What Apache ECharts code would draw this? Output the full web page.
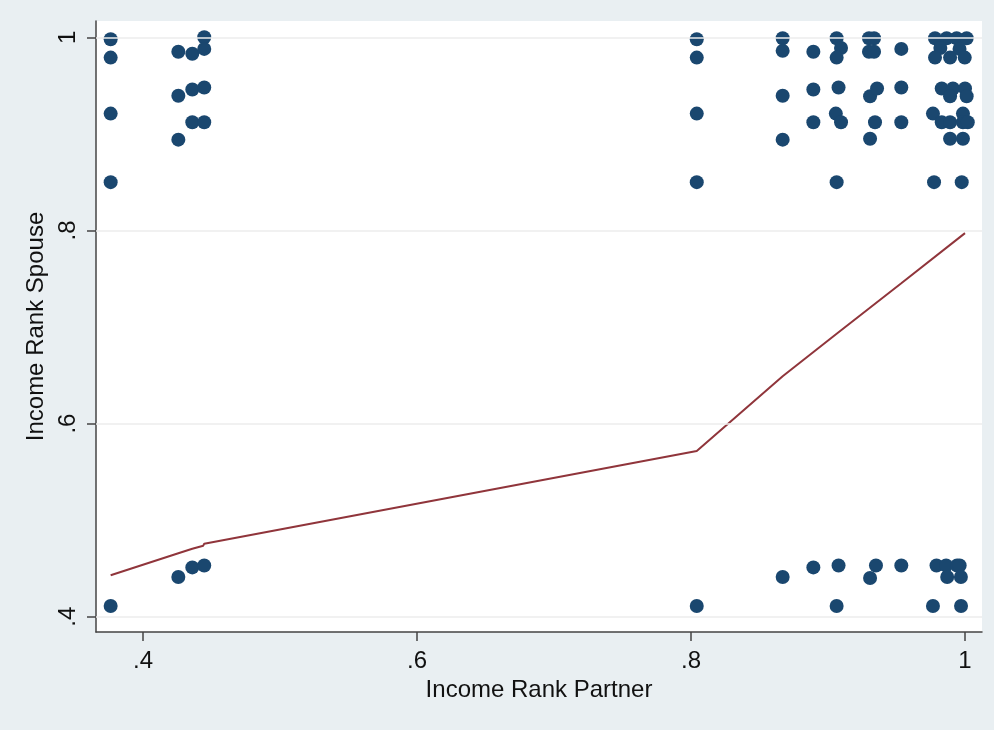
<!DOCTYPE html>
<html>
<head>
<meta charset="utf-8">
<script src="https://cdn.jsdelivr.net/npm/echarts@6/dist/echarts.min.js"></script>
<style>
  html, body { margin: 0; padding: 0; }
  #chart { width: 994px; height: 730px; }
</style>
</head>
<body>
<div id="chart"></div>
<script>
// partner income rank (x) and spouse income rank (y)
const partnerRank = [
  0.3764, 0.3764, 0.3764, 0.3764, 0.3764,
  0.4258, 0.4258, 0.4258, 0.4258,
  0.4360, 0.4360, 0.4360, 0.4360,
  0.4447, 0.4447, 0.4447, 0.4447, 0.4447,
  0.8042, 0.8042, 0.8042, 0.8042, 0.8042,
  0.8669, 0.8669, 0.8669, 0.8669, 0.8669,
  0.8893, 0.8893, 0.8893, 0.8893,
  0.9063, 0.9095, 0.9063, 0.9077, 0.9057, 0.9095, 0.9063, 0.9077, 0.9063,
  0.9299, 0.9336, 0.9299, 0.9336, 0.9307, 0.9358, 0.9343, 0.9307, 0.9307, 0.9350,
  0.9535, 0.9535, 0.9535, 0.9535,
  0.9781, 0.9866, 0.9939, 1.0012,
  0.9820, 0.9960,
  0.9781, 0.9891, 0.9998,
  0.9830, 0.9912, 1.0000,
  0.9891, 1.0012,
  0.9766, 0.9985,
  0.9830, 0.9891, 0.9985, 1.0020,
  0.9891, 0.9985,
  0.9774, 0.9976,
  0.9792, 0.9862, 0.9942, 0.9961,
  0.9870, 0.9970,
  0.9766, 0.9971
];
const spouseRank = [
  0.998, 0.979, 0.921, 0.850, 0.411,
  0.985, 0.9395, 0.894, 0.441,
  0.983, 0.946, 0.912, 0.451,
  1.000, 0.988, 0.948, 0.912, 0.453,
  0.998, 0.979, 0.921, 0.850, 0.411,
  0.999, 0.986, 0.9395, 0.894, 0.441,
  0.985, 0.946, 0.912, 0.451,
  0.999, 0.989, 0.979, 0.948, 0.921, 0.912, 0.850, 0.453, 0.411,
  0.999, 0.999, 0.985, 0.985, 0.939, 0.947, 0.912, 0.895, 0.440, 0.453,
  0.988, 0.948, 0.912, 0.453,
  0.999, 0.999, 0.999, 0.999,
  0.989, 0.988,
  0.979, 0.979, 0.979,
  0.947, 0.947, 0.947,
  0.939, 0.939,
  0.921, 0.921,
  0.912, 0.912, 0.912, 0.912,
  0.895, 0.895,
  0.850, 0.850,
  0.453, 0.453, 0.453, 0.453,
  0.441, 0.441,
  0.411, 0.411
];

// fitted line
const fitX = [0.3764, 0.4258, 0.4360, 0.4440, 0.4447, 0.4460, 0.8042, 0.8669, 0.9063, 0.9535, 1.0000];
const fitY = [0.4428, 0.4656, 0.4703, 0.4735, 0.4756, 0.4738, 0.5716, 0.6490, 0.6930, 0.7453, 0.7972];

const xTicks = [0.4, 0.6, 0.8, 1];
const yTicks = [0.4, 0.6, 0.8, 1];

const fmt = v => String(+v.toFixed(2)).replace(/^0\./, '.');

const chart = echarts.init(document.getElementById('chart'));

const option = {
  animation: false,
  backgroundColor: '#e9eff2',
  textStyle: { fontFamily: 'Liberation Sans, Arial, sans-serif' },
  grid: {
    left: 96, right: 12, top: 21, bottom: 98,
    show: true, backgroundColor: '#ffffff', borderWidth: 0
  },
  xAxis: {
    type: 'value',
    min: 0.3657, max: 1.0124,
    name: 'Income Rank Partner',
    nameLocation: 'middle',
    nameGap: 44,
    nameTextStyle: { fontSize: 24, color: '#111' },
    axisLine: { show: true, lineStyle: { color: '#444', width: 1.5 } },
    axisTick: { show: true, customValues: xTicks, length: 9, lineStyle: { color: '#444', width: 1.5 } },
    axisLabel: { customValues: xTicks, formatter: fmt, fontSize: 24, color: '#111', margin: 17 },
    splitLine: { show: false }
  },
  yAxis: {
    type: 'value',
    min: 0.3841, max: 1.0169,
    name: 'Income Rank Spouse',
    nameLocation: 'middle',
    nameGap: 48,
    nameRotate: 90,
    nameTextStyle: { fontSize: 24, color: '#111' },
    axisLine: { show: true, lineStyle: { color: '#444', width: 1.5 } },
    axisTick: { show: true, customValues: yTicks, length: 9, lineStyle: { color: '#444', width: 1.5 } },
    axisLabel: { customValues: yTicks, formatter: fmt, fontSize: 24, color: '#111', rotate: 90, margin: 16 },
    splitLine: { show: false }
  },
  series: [
    {
      // horizontal grid lines
      type: 'line',
      data: [],
      z: 1,
      silent: true,
      markLine: {
        silent: true,
        symbol: 'none',
        label: { show: false },
        lineStyle: { color: '#ececec', width: 1.5, type: 'solid' },
        data: yTicks.map(v => ({ yAxis: v }))
      }
    },
    {
      type: 'scatter',
      z: 3,
      symbolSize: 14,
      itemStyle: { color: '#1a476f', opacity: 1 },
      data: partnerRank.map((x, i) => [x, spouseRank[i]])
    },
    {
      type: 'line',
      z: 4,
      symbol: 'none',
      lineStyle: { color: '#90353b', width: 2 },
      data: fitX.map((x, i) => [x, fitY[i]])
    }
  ]
};

chart.setOption(option);
</script>
</body>
</html>
